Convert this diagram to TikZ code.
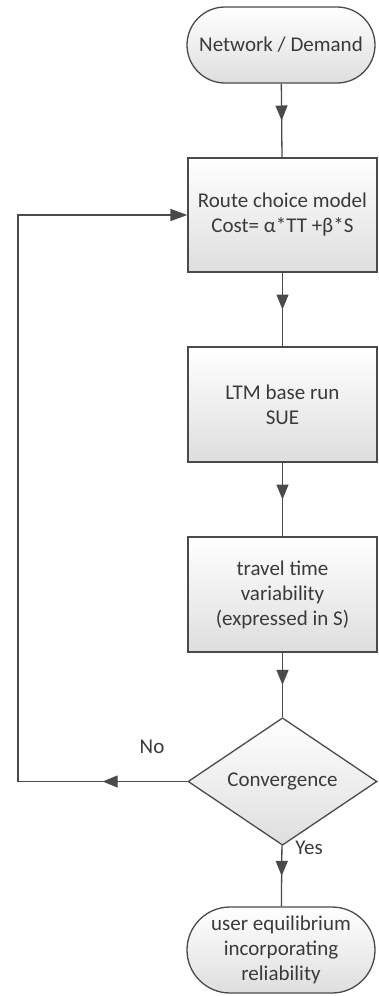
\documentclass[tikz,border=0pt]{standalone}
\usepackage{fontspec}
\setmainfont{Carlito}
\usetikzlibrary{shapes.geometric,shapes.misc,arrows.meta,decorations.markings}
\definecolor{EdgeGrey}{HTML}{4A4A4A}
\definecolor{TextGrey}{HTML}{3A3A3A}
\definecolor{FillGrey}{HTML}{DEDEDE}

\tikzset{
  base/.style={draw=EdgeGrey, line width=1.3pt, top color=white, bottom color=FillGrey,
    text=TextGrey, align=center, inner sep=0pt,
    font=\fontsize{21}{25}\selectfont},
  termbox/.style={base, rounded rectangle, minimum width=188pt},
  procbox/.style={base, rectangle, minimum width=189pt, minimum height=115pt},
  decbox/.style={base, diamond, minimum width=189pt, minimum height=113pt},
  flow/.style={draw=EdgeGrey, line width=1.3pt},
  midarrow/.style={flow, postaction={decorate, decoration={markings,
    mark=at position 0.5 with {\arrow{Triangle[length=15pt,width=12pt]}}}}},
  endarrow/.style={flow, -{Triangle[length=17pt,width=12pt]}},
  lbl/.style={text=TextGrey, font=\fontsize{21}{25}\selectfont}
}

\begin{document}
\begin{tikzpicture}[x=1pt,y=1pt]
  \useasboundingbox (0,0) rectangle (378,-996);

  % flowchart nodes
  \node[termbox, minimum height=76pt] (net) at (281,-45) {Network / Demand};
  \node[procbox, minimum height=114pt] (route) at (282.5,-215)
    {Route choice model\\Cost= α*TT +β*S};
  \node[procbox] (ltm) at (282.5,-404.5) {LTM base run\\SUE};
  \node[procbox] (var) at (282.5,-594.5)
    {travel time\\variability\\(expressed in S)};
  \node[decbox] (conv) at (282.5,-781.5) {Convergence};
  \node[termbox, minimum height=86pt] (fin) at (281,-950)
    {user equilibrium\\incorporating\\reliability};

  % main line
  \draw[midarrow] (net) -- (route);
  \draw[midarrow] (route) -- (ltm);
  \draw[midarrow] (ltm) -- (var);
  \draw[midarrow] (var) -- (conv);
  \draw[midarrow] (conv) -- (fin);

  % feedback loop
  \coordinate (back) at (18,-781.5);
  \draw[midarrow] (conv.west) -- (back);
  \draw[endarrow] (back) |- (route.west);

  \node[lbl] (no) at (152,-747) {No};
  \node[lbl] (yes) at (309,-848) {Yes};
\end{tikzpicture}
\end{document}
